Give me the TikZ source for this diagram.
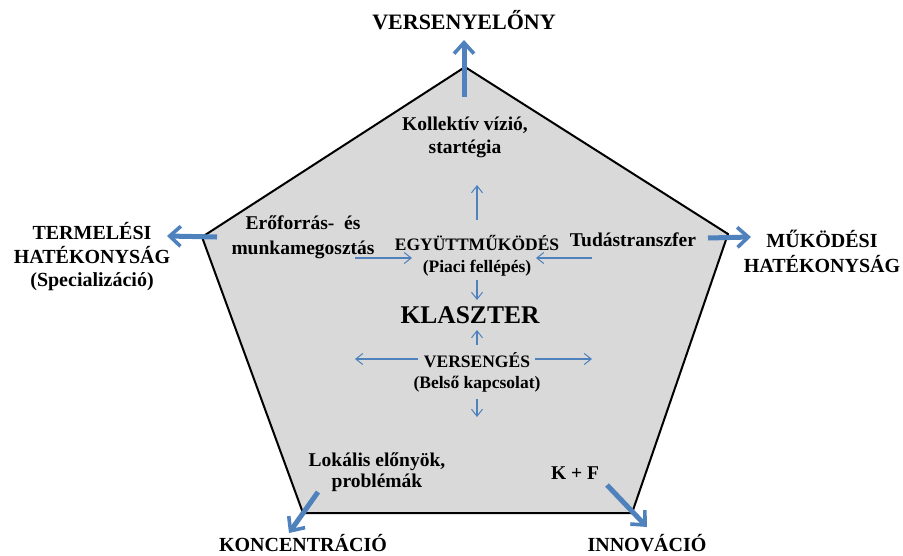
\documentclass[tikz,border=0pt]{standalone}
\usepackage{fontspec}
\setmainfont{Liberation Serif}
\usetikzlibrary{arrows.meta}
\definecolor{ablue}{HTML}{4F81BD}
\definecolor{pfill}{HTML}{D9D9D9}
\begin{document}
\begin{tikzpicture}[x=1pt,y=-1pt,
  txt/.style 2 args={font=\fontsize{#1}{#2}\selectfont\bfseries, align=center, inner sep=0pt},
  fatarrow/.style={draw=ablue, line width=5pt, -{Straight Barb[length=11pt,width=20pt,line width=3.6pt]}},
  thinarrow/.style={draw=ablue, line width=1.1pt, -{Straight Barb[length=7pt,width=11pt,line width=1pt]}}]
\useasboundingbox (0,0) rectangle (903,555);
% pentagon
\coordinate (vT) at (465,67);
\coordinate (vR) at (728,234);
\coordinate (vBR) at (632,513);
\coordinate (vBL) at (303,513);
\coordinate (vL) at (202,237);
\draw[line width=2pt, fill=pfill, line join=miter] (vT) -- (vR) -- (vBR) -- (vBL) -- (vL) -- cycle;
% text nodes
\node[txt={22}{26}] (ver) at (464,20) {VERSENYELŐNY};
\node[txt={19.5}{23}] (koll) at (465,137) {Kollektív vízió,\\startégia};
\node[txt={20}{23.5}] (term) at (92,257) {TERMELÉSI\\HATÉKONYSÁG\\(Specializáció)};
\node[txt={20}{25}] (muk) at (822,251) {MŰKÖDÉSI\\HATÉKONYSÁG};
\node[txt={19.5}{25}] (ero) at (303,237) {Erőforrás-\ \ és\\munkamegosztás};
\node[txt={19.5}{23}] (tud) at (633,240) {Tudástranszfer};
\node[txt={17.5}{22}] (egy) at (477,256) {EGYÜTTMŰKÖDÉS\\(Piaci fellépés)};
\node[txt={25.5}{30}] (kla) at (470,315) {KLASZTER};
\node[txt={17.5}{21}] (vers) at (477,372) {VERSENGÉS\\(Belső kapcsolat)};
\node[txt={19.5}{21.5}] (lok) at (377,472) {Lokális előnyök,\\problémák};
\node[txt={19.5}{23}] (kf) at (575,473) {K + F};
\node[txt={20}{24}] (konc) at (303,543) {KONCENTRÁCIÓ};
\node[txt={20}{24}] (inn) at (647,543) {INNOVÁCIÓ};
% fat arrow ends
\coordinate (aT1) at (464,97);  \coordinate (aT2) at (464,40);
\coordinate (aL1) at (217,237); \coordinate (aL2) at (167,236);
\coordinate (aR1) at (708,238); \coordinate (aR2) at (751,237);
\coordinate (aBL1) at (318,492); \coordinate (aBL2) at (289,533);
\coordinate (aBR1) at (607,485); \coordinate (aBR2) at (647,527);
\draw[fatarrow] (aT1) -- (aT2);
\draw[fatarrow] (aL1) -- (aL2);
\draw[fatarrow] (aR1) -- (aR2);
\draw[fatarrow] (aBL1) -- (aBL2);
\draw[fatarrow] (aBR1) -- (aBR2);
% thin arrows
\coordinate (t1a) at (477,220); \coordinate (t1b) at (477,185);
\coordinate (t2a) at (355,258); \coordinate (t2b) at (412,258);
\coordinate (t3a) at (592,258); \coordinate (t3b) at (536,258);
\coordinate (t4a) at (477,280); \coordinate (t4b) at (477,300);
\coordinate (t5a) at (477,345); \coordinate (t5b) at (477,330);
\coordinate (t6a) at (418,359); \coordinate (t6b) at (355,359);
\coordinate (t7a) at (535,359); \coordinate (t7b) at (592,359);
\coordinate (t8a) at (477,399); \coordinate (t8b) at (477,417);
\foreach \s in {t1,t2,t3,t4,t5,t6,t7,t8}
  \draw[thinarrow] (\s a) -- (\s b);
\end{tikzpicture}
\end{document}
